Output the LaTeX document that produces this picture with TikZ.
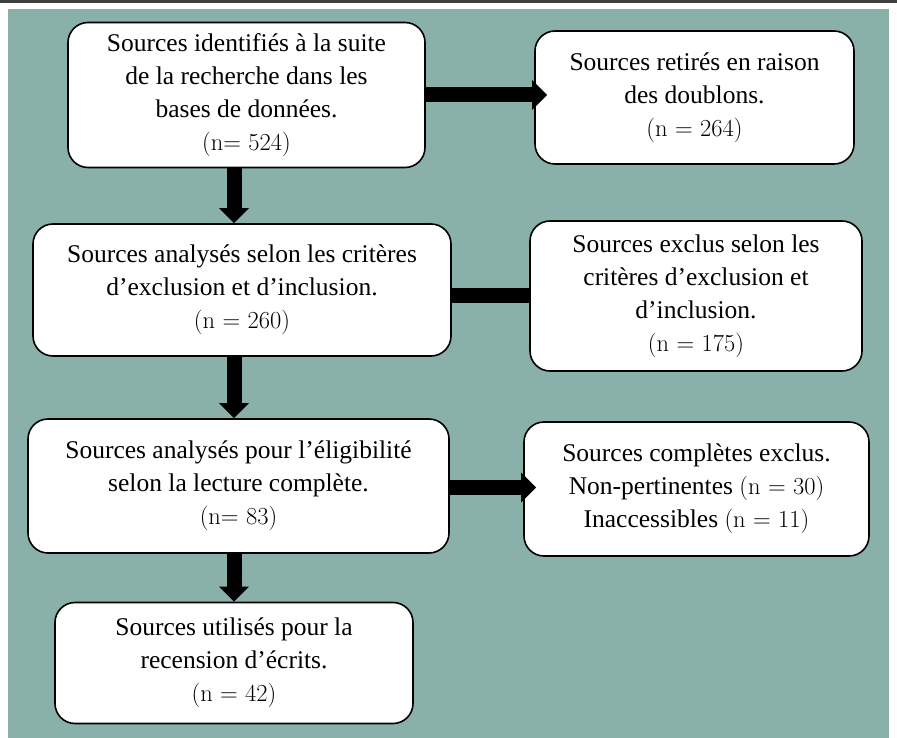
\documentclass[tikz,border=0pt]{standalone}
\usepackage{fontspec}
\newfontfamily\garfont{Liberation Serif}
\usetikzlibrary{arrows.meta,calc}
\definecolor{bg}{HTML}{8AB0AA}
\definecolor{topbar}{HTML}{404040}
\newcommand\ncount[1]{{\rmfamily\fontsize{24.5}{33}\selectfont(#1)}}
\begin{document}
\begin{tikzpicture}[x=1pt,y=-1pt,
 box/.style={draw=black, line width=1.6pt, fill=white, rounded corners=20pt, align=center, inner sep=0pt, font=\garfont\fontsize{25.5}{33}\selectfont},
 bigarrow/.style={line width=15pt, -{Triangle[width=29pt,length=15pt]}},
 bar/.style={line width=15pt}]
\useasboundingbox (0,0) rectangle (897,738);
\fill[white] (0,0) rectangle (897,738);
\fill[topbar] (0,0) rectangle (897,3);
\fill[bg] (8,9) rectangle (889,738);

\node[box, minimum width=357pt, minimum height=145pt] (b1) at (246.5,95)
 {Sources identifiés à la suite\\de la recherche dans les\\bases de données.\\\ncount{n= 524}};
\node[box, minimum width=319pt, minimum height=133pt] (b2) at (694.5,97.5)
 {Sources retirés en raison\\des doublons.\\\ncount{n = 264}};
\node[box, minimum width=418pt, minimum height=132pt] (b3) at (242,290)
 {Sources analysés selon les critères\\d’exclusion et d’inclusion.\\\ncount{n = 260}};
\node[box, minimum width=332pt, minimum height=150pt] (b4) at (696,296)
 {Sources exclus selon les\\critères d’exclusion et\\d’inclusion.\\\ncount{n = 175}};
\node[box, minimum width=421pt, minimum height=134pt] (b5) at (238.5,486)
 {Sources analysés pour l’éligibilité\\selon la lecture complète.\\\ncount{n= 83}};
\node[box, minimum width=345pt, minimum height=134pt] (b6) at (696.5,489)
 {Sources complètes exclus.\\Non-pertinentes \ncount{n = 30}\\Inaccessibles \ncount{n = 11}};
\node[box, minimum width=358pt, minimum height=121pt] (b7) at (234,663)
 {Sources utilisés pour la\\recension d’écrits.\\\ncount{n = 42}};

\coordinate (xd) at (234,0);
\coordinate (y1) at (0,95);
\coordinate (y2) at (0,295.5);
\coordinate (y3) at (0,487.5);

\draw[bigarrow] (b1.east |- y1) -- ($(b2.west |- y1)+(13,0)$);
\draw[bigarrow] (b1.south -| xd) -- (b3.north -| xd);
\draw[bar] (b3.east |- y2) -- (b4.west |- y2);
\draw[bigarrow] (b3.south -| xd) -- (b5.north -| xd);
\draw[bigarrow] (b5.east |- y3) -- ($(b6.west |- y3)+(13,0)$);
\draw[bigarrow] (b5.south -| xd) -- (b7.north -| xd);
\end{tikzpicture}
\end{document}
